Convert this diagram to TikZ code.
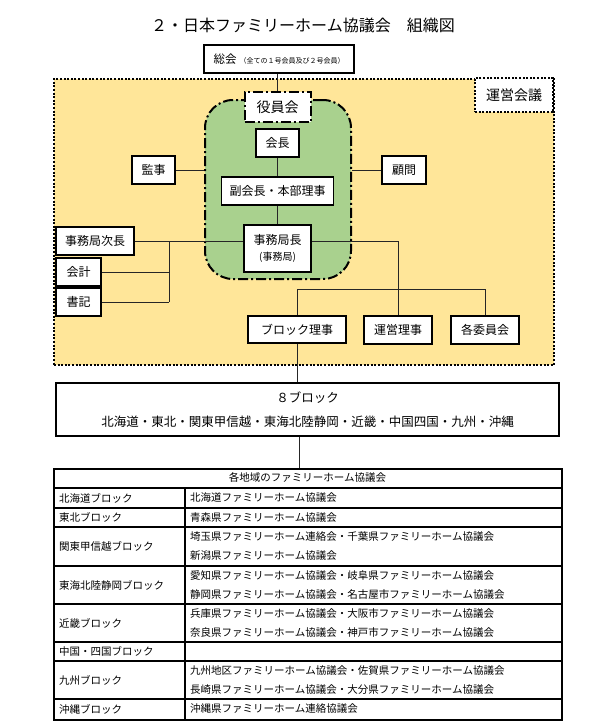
\documentclass[tikz,border=0pt]{standalone}
\usepackage{fontspec}
\setmainfont{Noto Sans CJK JP}
\definecolor{yel}{HTML}{FFE699}
\definecolor{grn}{HTML}{A9D18E}
\newcommand\fsz[1]{\fontsize{#1}{#1}\selectfont}
\pgfdeclarelayer{bg}\pgfdeclarelayer{lines}\pgfsetlayers{bg,lines,main}
\begin{document}
\begin{tikzpicture}[x=1pt,y=-1pt,
  box/.style={draw, fill=white, line width=1.3pt, inner sep=0pt, font=\fsz{12}},
  conn/.style={line width=0.7pt, draw=black!85},
  dotbox/.style={draw, line width=2pt, dash pattern=on 2pt off 1.6pt},
  dashdot/.style={draw, line width=2pt, dash pattern=on 10pt off 3pt on 2pt off 3pt},
  tline/.style={line width=1.6pt},
  ttext/.style={inner sep=0pt, font=\fsz{10.5}, anchor=west}]
\useasboundingbox (0,0) rectangle (598,725);

\node[font=\fsz{16}, inner sep=0pt] (title) at (303,25) {２・日本ファミリーホーム協議会　組織図};

\begin{pgfonlayer}{bg}
\node[dotbox, fill=yel, minimum width=500pt, minimum height=286pt, anchor=north west, inner sep=0pt] (yellow) at (53,78) {};
\node[dashdot, fill=grn, rounded corners=28pt, minimum width=146pt, minimum height=179pt, inner sep=0pt] (green) at (278,189.5) {};
\end{pgfonlayer}

\node[box, minimum width=150pt, minimum height=28pt] (soukai) at (279,59)
  {{\fsz{11.5}総会}\hspace{3pt}{\fsz{7}（全ての１号会員及び２号会員）}};
\node[dotbox, fill=white, minimum width=78pt, minimum height=34pt, inner sep=0pt, font=\fsz{14}] (uneikaigi) at (514,95) {運営会議};
\node[box, dashdot, minimum width=66pt, minimum height=30pt, font=\fsz{14}] (yakuin) at (277.5,107) {役員会};
\node[box, minimum width=43pt, minimum height=28pt] (kaicho) at (277.5,143) {会長};
\node[box, minimum width=112pt, minimum height=28pt] (fuku) at (277.5,191) {副会長・本部理事};
\node[box, minimum width=67pt, minimum height=47pt, align=center, font=\fontsize{12}{16}\selectfont] (jimu) at (277.5,248.5)
  {事務局長\\{\fsz{10}(事務局)}};
\node[box, minimum width=43pt, minimum height=28pt] (kansa) at (153.5,170) {監事};
\node[box, minimum width=44pt, minimum height=28pt] (komon) at (404,170) {顧問};
\node[box, minimum width=78pt, minimum height=28pt] (jichou) at (95,241) {事務局次長};
\node[box, minimum width=45pt, minimum height=28pt] (kaikei) at (78.5,272) {会計};
\node[box, minimum width=45pt, minimum height=28pt] (shoki) at (78.5,302) {書記};
\node[box, minimum width=98pt, minimum height=27pt] (block) at (297,329.5) {ブロック理事};
\node[box, minimum width=68pt, minimum height=28pt] (unei) at (398,330) {運営理事};
\node[box, minimum width=68pt, minimum height=28pt] (iin) at (485,330) {各委員会};

\node[box, minimum width=503pt, minimum height=53pt, align=center, font=\fontsize{12.5}{24}\selectfont] (hachi) at (307.5,409.5)
  {８ブロック\\北海道・東北・関東甲信越・東海北陸静岡・近畿・中国四国・九州・沖縄};

% table
\node[draw, line width=1.8pt, minimum width=508pt, minimum height=251pt, inner sep=0pt, anchor=north west] (tbl) at (53,468) {};
\foreach \yy in {488,508,527,566,604,642,661,699} \draw[tline] (53,\yy) -- (561,\yy);
\draw[tline] (185,488) -- (185,719);
\node[ttext, anchor=center] (th) at (307.5,478) {各地域のファミリーホーム協議会};
\node[ttext] (l1) at (59,498) {北海道ブロック};
\node[ttext] (l2) at (59,517.5) {東北ブロック};
\node[ttext] (l3) at (59,546.5) {関東甲信越ブロック};
\node[ttext] (l4) at (59,585) {東海北陸静岡ブロック};
\node[ttext] (l5) at (59,623) {近畿ブロック};
\node[ttext] (l6) at (59,651.5) {中国・四国ブロック};
\node[ttext] (l7) at (59,680) {九州ブロック};
\node[ttext] (l8) at (59,709) {沖縄ブロック};
\node[ttext] (r1) at (190,498) {北海道ファミリーホーム協議会};
\node[ttext] (r2) at (190,517.5) {青森県ファミリーホーム協議会};
\node[ttext] (r3a) at (190,537) {埼玉県ファミリーホーム連絡会・千葉県ファミリーホーム協議会};
\node[ttext] (r3b) at (190,556) {新潟県ファミリーホーム協議会};
\node[ttext] (r4a) at (190,575.5) {愛知県ファミリーホーム協議会・岐阜県ファミリーホーム協議会};
\node[ttext] (r4b) at (190,594.5) {静岡県ファミリーホーム協議会・名古屋市ファミリーホーム協議会};
\node[ttext] (r5a) at (190,613.5) {兵庫県ファミリーホーム協議会・大阪市ファミリーホーム協議会};
\node[ttext] (r5b) at (190,632.5) {奈良県ファミリーホーム協議会・神戸市ファミリーホーム協議会};
\node[ttext] (r7a) at (190,670.5) {九州地区ファミリーホーム協議会・佐賀県ファミリーホーム協議会};
\node[ttext] (r7b) at (190,689.5) {長崎県ファミリーホーム協議会・大分県ファミリーホーム協議会};
\node[ttext] (r8) at (190,709) {沖縄県ファミリーホーム連絡協議会};

\coordinate (v1) at (169,241);
\coordinate (bus) at (0,289);
\begin{pgfonlayer}{lines}
\draw[conn, line width=1.3pt] (yakuin.north |- soukai.south) -- (yakuin.north);
\draw[conn] (kaicho) -- (fuku);
\draw[conn] (fuku) -- (jimu);
\draw[conn] (kansa.east) -- (kansa.east -| green.west);
\draw[conn] (komon.west) -- (komon.west -| green.east);
\draw[conn] (jichou.east) -- (jimu.west |- jichou);
\draw[conn] (v1) -- (v1 |- shoki);
\draw[conn] (kaikei.east) -- (kaikei -| v1);
\draw[conn] (shoki.east) -- (shoki -| v1);
\draw[conn] (jimu.east |- jichou) -| (unei.north);
\draw[conn] (block.north) |- (iin.north |- bus) -- (iin.north);
\draw[conn] (block.south) -- (block.south |- hachi.north);
\draw[conn] ([xshift=2pt]block.south |- hachi.south) -- ([xshift=2pt]block.south |- tbl.north);
\end{pgfonlayer}
\end{tikzpicture}
\end{document}
